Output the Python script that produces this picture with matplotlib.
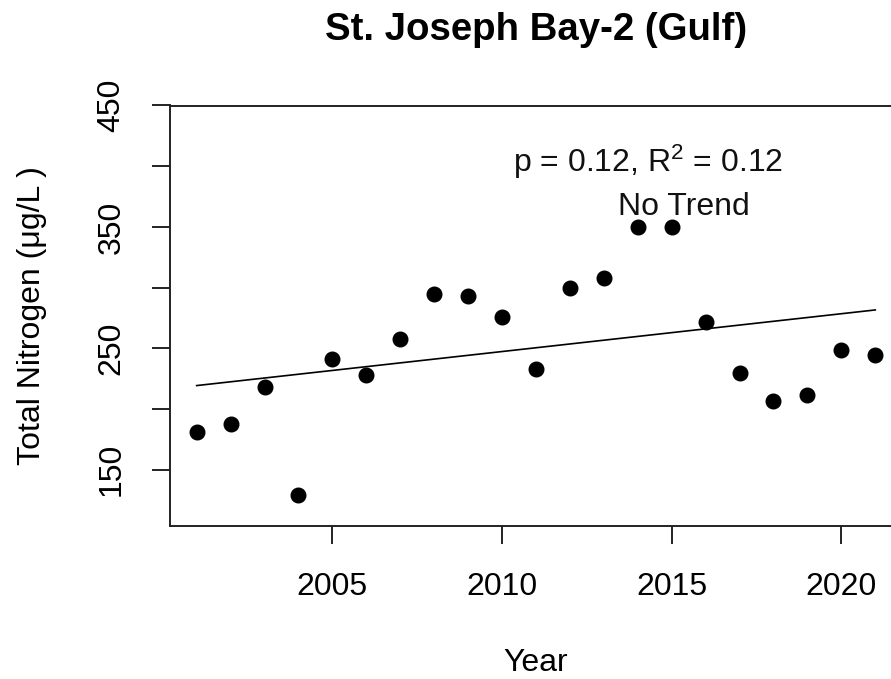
import matplotlib
matplotlib.use("Agg")
import matplotlib.pyplot as plt
import numpy as np

plt.rcParams['font.family'] = ['Liberation Sans', 'DejaVu Sans']
plt.rcParams['mathtext.fontset'] = 'custom'
plt.rcParams['mathtext.rm'] = 'Liberation Sans'
plt.rcParams['mathtext.it'] = 'Liberation Sans:italic'

# Data
years = [2001, 2002, 2003, 2004, 2005, 2006, 2007, 2008, 2009, 2010, 2011,
         2012, 2013, 2014, 2015, 2016, 2017, 2018, 2019, 2020, 2021]
total_nitrogen = [181.3, 187.9, 218.0, 129.4, 241.1, 227.9, 257.9, 294.6, 292.8, 276.0, 232.9,
                  300.0, 307.8, 349.8, 349.8, 271.6, 229.6, 206.3, 211.5, 248.3, 244.5]
x_ticks = [2005, 2010, 2015, 2020]
y_ticks = [150, 200, 250, 300, 350, 400, 450]
y_tick_labels = ['150', '', '250', '', '350', '', '450']
title = 'St. Joseph Bay-2 (Gulf)'
stats_text = 'p = 0.12, R$^{\\mathrm{2}}$ = 0.12'
trend_text = 'No Trend'

W, H = 891, 679
fig = plt.figure(figsize=(W / 100, H / 100), dpi=100)
ax = fig.add_axes([169.5 / W, (H - 526) / H, 732.9 / W, 420.5 / H])

x = np.array(years, dtype=float)
y = np.array(total_nitrogen, dtype=float)
ax.plot(x, y, 'o', color='black', markersize=10.5, zorder=3)

slope, intercept = np.polyfit(x, y, 1)
ax.plot([x.min(), x.max()], [intercept + slope * x.min(), intercept + slope * x.max()],
        color='black', lw=1.2, zorder=2)

ax.set_xlim(2000.2, 2021.8)
ax.set_ylim(103.6, 450)
ax.set_xticks(x_ticks)
ax.set_xticklabels([str(t) for t in x_ticks])
ax.set_yticks(y_ticks)
ax.set_yticklabels(y_tick_labels, rotation=90, va='center')

for s in ax.spines.values():
    s.set_linewidth(1.4)
    s.set_color('#222222')
ax.tick_params(axis='both', length=13, width=1.4, color='#222222', labelsize=23)
ax.tick_params(axis='x', pad=20)
ax.tick_params(axis='y', pad=18)

ax.text(2014.31, 395.1, stats_text, ha='center', va='baseline', fontsize=23, color='#111111')
ax.text(2015.35, 359.5, trend_text, ha='center', va='baseline', fontsize=23, color='#111111')

fig.text(536 / W, 1 - 40 / H, title, ha='center', va='baseline', fontsize=27.6,
         fontweight='bold')
fig.text(536 / W, 1 - 663 / H, 'Year', ha='center', va='center', fontsize=23)
fig.text(32 / W, 1 - 316 / H, 'Total Nitrogen (\u03bcg/L )', ha='center', va='center',
         rotation=90, fontsize=23)

fig.savefig('out.png', dpi=100)
